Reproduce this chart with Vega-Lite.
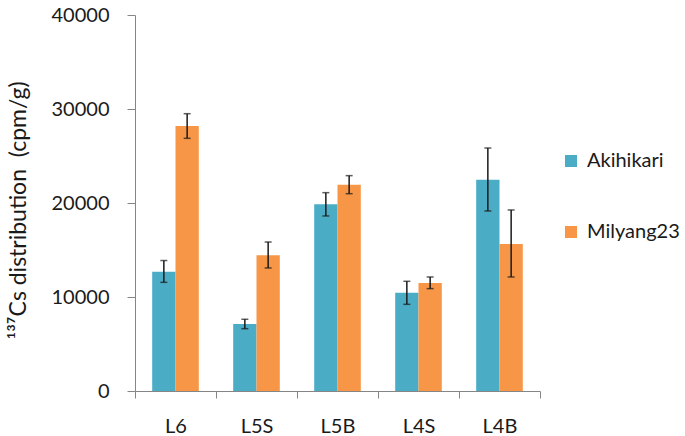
{
  "$schema": "https://vega.github.io/schema/vega-lite/v6.json",
  "width": 405,
  "height": 376,
  "autosize": "none",
  "padding": {"left": 135, "top": 15, "right": 145, "bottom": 45},
  "background": "white",
  "config": {"view": {"stroke": null}, "font": "Lato"},
  "data": {
    "values": [
      {"tissue": "L6", "cultivar": "Akihikari", "mean": 12690, "lo": 11560, "hi": 13880},
      {"tissue": "L6", "cultivar": "Milyang23", "mean": 28190, "lo": 26880, "hi": 29500},
      {"tissue": "L5S", "cultivar": "Akihikari", "mean": 7130, "lo": 6630, "hi": 7630},
      {"tissue": "L5S", "cultivar": "Milyang23", "mean": 14430, "lo": 13090, "hi": 15850},
      {"tissue": "L5B", "cultivar": "Akihikari", "mean": 19860, "lo": 18620, "hi": 21100},
      {"tissue": "L5B", "cultivar": "Milyang23", "mean": 21950, "lo": 20990, "hi": 22910},
      {"tissue": "L4S", "cultivar": "Akihikari", "mean": 10460, "lo": 9220, "hi": 11670},
      {"tissue": "L4S", "cultivar": "Milyang23", "mean": 11490, "lo": 10890, "hi": 12130},
      {"tissue": "L4B", "cultivar": "Akihikari", "mean": 22480, "lo": 19150, "hi": 25850},
      {"tissue": "L4B", "cultivar": "Milyang23", "mean": 15640, "lo": 12130, "hi": 19260}
    ]
  },
  "encoding": {
    "x": {
      "field": "tissue",
      "type": "nominal",
      "sort": ["L6", "L5S", "L5B", "L4S", "L4B"],
      "scale": {"paddingInner": 0, "paddingOuter": 0},
      "axis": {
        "title": null,
        "labelAngle": 0,
        "tickBand": "extent",
        "tickSize": 7,
        "tickColor": "#868686",
        "domainColor": "#868686",
        "labelFontSize": 20,
        "labelColor": "#1a1a1a",
        "labelPadding": 18
      }
    },
    "xOffset": {
      "field": "cultivar",
      "type": "nominal",
      "sort": ["Akihikari", "Milyang23"],
      "scale": {"paddingInner": 0, "paddingOuter": 0.738}
    }
  },
  "layer": [
    {
      "mark": {"type": "bar"},
      "encoding": {
        "y": {
          "field": "mean",
          "type": "quantitative",
          "scale": {"domain": [0, 40000]},
          "axis": {
            "values": [0, 10000, 20000, 30000, 40000],
            "format": "d",
            "grid": false,
            "tickSize": 8,
            "tickColor": "#868686",
            "domainColor": "#868686",
            "labelFontSize": 20,
            "labelColor": "#1a1a1a",
            "labelPadding": 18,
            "title": "¹³⁷Cs distribution\u00a0\u00a0(cpm/g)",
            "titleFontSize": 23,
            "titleFontWeight": "normal",
            "titleColor": "#1a1a1a",
            "titleX": -110,
            "titleY": 195,
            "titleAngle": -90,
            "titleAlign": "center",
            "titleBaseline": "alphabetic"
          }
        },
        "color": {
          "field": "cultivar",
          "type": "nominal",
          "sort": ["Akihikari", "Milyang23"],
          "scale": {"range": ["#4BACC6", "#F79646"]},
          "legend": {
            "title": null,
            "orient": "none",
            "legendX": 426,
            "legendY": 136,
            "symbolType": "square",
            "symbolSize": 144,
            "symbolStrokeWidth": 0,
            "labelFontSize": 20,
            "labelColor": "#1a1a1a",
            "labelOffset": 6,
            "rowPadding": 51
          }
        }
      }
    },
    {
      "mark": {"type": "rule", "strokeWidth": 1.5, "color": "#1a1a1a"},
      "encoding": {
        "y": {"field": "lo", "type": "quantitative"},
        "y2": {"field": "hi"}
      }
    },
    {
      "mark": {"type": "tick", "orient": "horizontal", "size": 7, "thickness": 1.5, "color": "#1a1a1a"},
      "encoding": {"y": {"field": "lo", "type": "quantitative"}}
    },
    {
      "mark": {"type": "tick", "orient": "horizontal", "size": 7, "thickness": 1.5, "color": "#1a1a1a"},
      "encoding": {"y": {"field": "hi", "type": "quantitative"}}
    }
  ]
}
